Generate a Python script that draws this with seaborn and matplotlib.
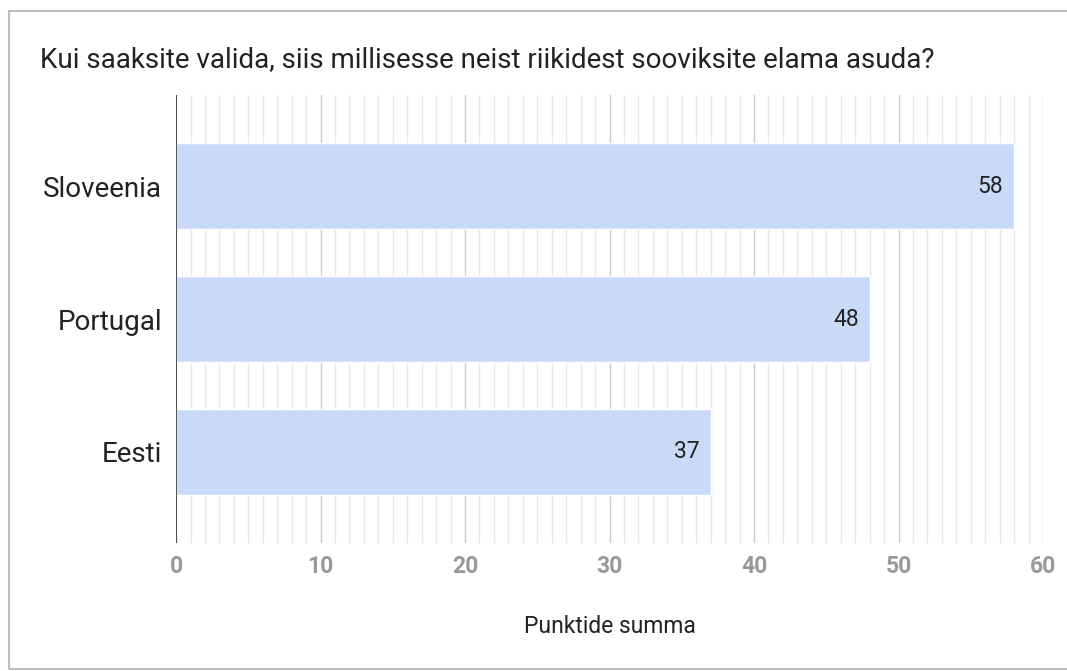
import matplotlib.pyplot as plt
import matplotlib.patches as mpatches
from matplotlib.ticker import MultipleLocator
import seaborn as sns
import pandas as pd

# Andmed
riigid = ['Sloveenia', 'Portugal', 'Eesti']
punktid = [58, 48, 37]
x_ticks = [0, 10, 20, 30, 40, 50, 60]

pealkiri = 'Kui saaksite valida, siis millisesse neist riikidest sooviksite elama asuda?'
x_silt = 'Punktide summa'

df = pd.DataFrame({'Riik': riigid, 'Punktid': punktid})

sns.set_style('white')
plt.rcParams['font.family'] = ['Roboto', 'DejaVu Sans']

fig = plt.figure(figsize=(10.67, 6.71), dpi=100)
ax = fig.add_axes([0.165, 0.191, 0.8125, 0.667])

sns.barplot(data=df, x='Punktid', y='Riik', color='#c9daf8', width=0.65,
            saturation=1, ax=ax, zorder=3)

ax.set_xlim(0, 60)
ax.set_ylim(2.685, -0.685)
ax.set_xticks(x_ticks)
ax.xaxis.set_minor_locator(MultipleLocator(1))
ax.grid(True, which='minor', axis='x', color='#e8e8e8', linewidth=1, zorder=0)
ax.grid(True, which='major', axis='x', color='#cccccc', linewidth=1, zorder=1)
ax.axvline(0, color='#333333', linewidth=1.2, zorder=4)

for s in ax.spines.values():
    s.set_visible(False)

ax.tick_params(axis='x', which='both', length=0, pad=8.5, labelsize=16.5,
               labelcolor='#999999')
for t in ax.get_xticklabels():
    t.set_fontweight('bold')
ax.tick_params(axis='y', length=0, pad=10, labelsize=20, labelcolor='#222222')

for i, v in enumerate(punktid):
    ax.text(v - 0.75, i, str(v), ha='right', va='center', fontsize=16.5,
            color='#222222', zorder=5)

ax.set_ylabel('')
ax.set_xlabel(x_silt, fontsize=16.5, color='#222222', labelpad=27)

fig.text(40 / 1067, 1 - 60 / 671, pealkiri, fontsize=20, color='#222222',
         ha='left', va='center')

# raam ümber graafiku (paremat serva pole näha)
fig.patches.append(mpatches.Rectangle((9 / 1067, 2 / 671), 1070 / 1067, 658 / 671,
                                      transform=fig.transFigure, fill=False,
                                      edgecolor='#bdbdbd', linewidth=1.5))

plt.savefig('out.png', dpi=100)
plt.close()
